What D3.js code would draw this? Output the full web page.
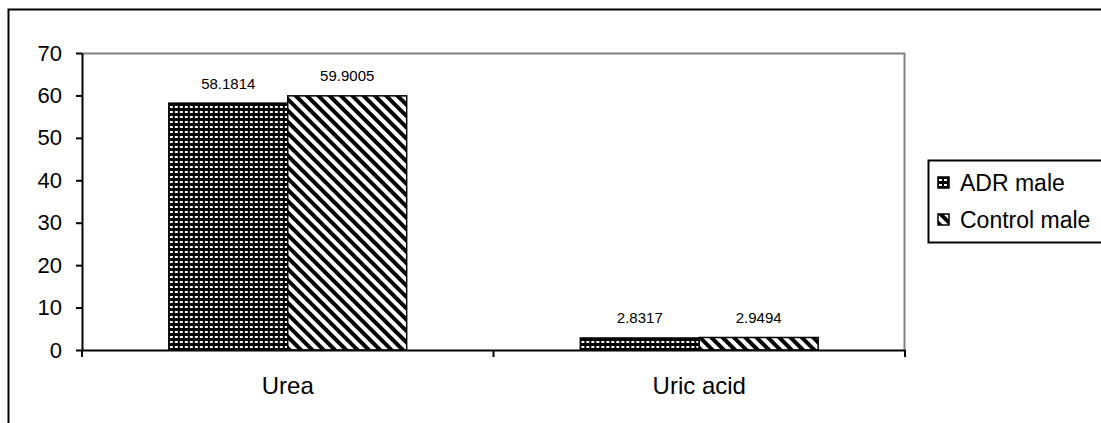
<!DOCTYPE html>
<html>
<head>
<meta charset="utf-8">
<script src="https://cdn.jsdelivr.net/npm/d3@7"></script>
<style>
  html, body { margin: 0; padding: 0; background: #fff; }
  svg { display: block; font-family: "Liberation Sans", Arial, sans-serif; }
</style>
</head>
<body>
<svg id="chart" width="1101" height="423"></svg>
<script>
// Data
const categories = ["Urea", "Uric acid"];
const seriesNames = ["ADR male", "Control male"];
const adrMale = [58.1814, 2.8317];
const controlMale = [59.9005, 2.9494];
const yTicks = [0, 10, 20, 30, 40, 50, 60, 70];

const seriesValues = [adrMale, controlMale];
const patternIds = ["pat-grid", "pat-diag"];

const svg = d3.select("#chart");
const W = 1101, H = 423;
const FONT = "'Liberation Sans', Arial, sans-serif";

// Fill patterns: dotted grid and diagonal hatch
const defs = svg.append("defs");
const grid = defs.append("pattern")
  .attr("id", "pat-grid").attr("patternUnits", "userSpaceOnUse")
  .attr("width", 5).attr("height", 5);
grid.append("rect").attr("width", 5).attr("height", 5).attr("fill", "#000");
grid.append("rect").attr("x", 1).attr("y", 1).attr("width", 3).attr("height", 2).attr("fill", "#fff");

const diag = defs.append("pattern")
  .attr("id", "pat-diag").attr("patternUnits", "userSpaceOnUse")
  .attr("width", 8).attr("height", 8)
  .attr("patternTransform", "rotate(45)");
diag.append("rect").attr("width", 8).attr("height", 8).attr("fill", "#fff");
diag.append("rect").attr("x", 0).attr("y", 0).attr("width", 8).attr("height", 4).attr("fill", "#000");

// Outer chart frame
svg.append("rect")
  .attr("x", 8.5).attr("y", 9.5)
  .attr("width", W + 20).attr("height", H + 20)
  .attr("fill", "none").attr("stroke", "#000").attr("stroke-width", 2);

// Plot area
const plot = { left: 82, top: 53, right: 905, bottom: 350 };

const x = d3.scaleBand()
  .domain(categories)
  .range([plot.left, plot.right])
  .paddingInner(0).paddingOuter(0);

const y = d3.scaleLinear()
  .domain([0, 70])
  .range([plot.bottom, plot.top]);

const groupWidth = x.bandwidth() * 0.578;
const x1 = d3.scaleBand()
  .domain(seriesNames)
  .range([0, groupWidth])
  .padding(0);

// Plot area frame (grey top and right)
svg.append("path")
  .attr("d", `M${plot.left},${plot.top + 0.5}H${plot.right - 0.5}V${plot.bottom}`)
  .attr("fill", "none").attr("stroke", "#808080").attr("stroke-width", 2);

// Bars
const groups = svg.append("g").selectAll("g")
  .data(categories)
  .join("g")
  .attr("transform", c => `translate(${x(c) + (x.bandwidth() - groupWidth) / 2},0)`);

groups.selectAll("rect")
  .data((c, i) => seriesNames.map((s, j) => ({ s, j, v: seriesValues[j][i] })))
  .join("rect")
  .attr("x", d => x1(d.s))
  .attr("y", d => y(d.v))
  .attr("width", x1.bandwidth())
  .attr("height", d => y(0) - y(d.v))
  .attr("fill", d => `url(#${patternIds[d.j]})`)
  .attr("stroke", "#000").attr("stroke-width", 1.5);

// Value labels
groups.selectAll("text.val")
  .data((c, i) => seriesNames.map((s, j) => ({ s, j, v: seriesValues[j][i] })))
  .join("text")
  .attr("class", "val")
  .attr("x", d => x1(d.s) + x1.bandwidth() / 2)
  .attr("y", d => y(d.v) - 14.5)
  .attr("text-anchor", "middle")
  .attr("font-size", 15)
  .attr("fill", "#000")
  .text(d => d.v.toFixed(4));

// Y axis
const yAxis = svg.append("g")
  .attr("transform", `translate(${plot.left},0)`)
  .call(d3.axisLeft(y).tickValues(yTicks).tickSize(6).tickPadding(14).tickSizeOuter(0));
yAxis.select(".domain").attr("stroke", "#000").attr("stroke-width", 2);
yAxis.selectAll(".tick line").attr("stroke", "#000").attr("stroke-width", 2);
yAxis.selectAll(".tick text").attr("font-size", 22).attr("fill", "#000")
  .attr("font-family", FONT);

// X axis
const boundaries = [plot.left, plot.left + x.bandwidth(), plot.right];
const xAxis = svg.append("g")
  .attr("transform", `translate(0,${plot.bottom})`)
  .call(d3.axisBottom(x).tickSize(0).tickPadding(0));
xAxis.select(".domain").attr("stroke", "#000").attr("stroke-width", 2);
xAxis.selectAll(".tick text")
  .attr("y", 44).attr("dy", null)
  .attr("font-size", 24).attr("fill", "#000")
  .attr("font-family", FONT);
xAxis.selectAll("line.bound")
  .data(boundaries)
  .join("line")
  .attr("class", "bound")
  .attr("x1", d => d).attr("x2", d => d)
  .attr("y1", 0).attr("y2", 7)
  .attr("stroke", "#000").attr("stroke-width", 2);

// Legend
const legend = svg.append("g");
legend.append("rect")
  .attr("x", 928.5).attr("y", 160.5)
  .attr("width", 200).attr("height", 82)
  .attr("fill", "#fff").attr("stroke", "#000").attr("stroke-width", 2);
const items = legend.selectAll("g.item")
  .data(seriesNames)
  .join("g")
  .attr("class", "item")
  .attr("transform", (d, i) => `translate(938,${183 + i * 37})`);
items.append("rect")
  .attr("x", 0).attr("y", -6)
  .attr("width", 11).attr("height", 11)
  .attr("fill", (d, i) => `url(#${patternIds[i]})`)
  .attr("stroke", "#000").attr("stroke-width", 1.5);
items.append("text")
  .attr("x", 22).attr("y", 0)
  .attr("dy", "0.35em")
  .attr("font-size", 23)
  .attr("fill", "#000")
  .text(d => d);
</script>
</body>
</html>
